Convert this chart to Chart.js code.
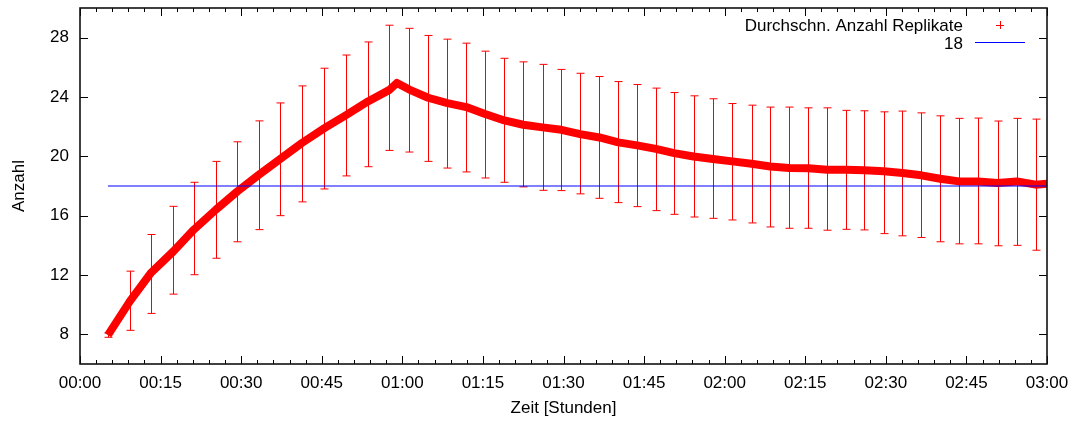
<!DOCTYPE html>
<html>
<head>
<meta charset="utf-8">
<script src="https://cdn.jsdelivr.net/npm/chart.js@4/dist/chart.umd.min.js"></script>
<style>
  html, body { margin: 0; padding: 0; background: #fff; }
</style>
</head>
<body>
<canvas id="chart" width="1073" height="424"></canvas>
<script>
// Zeit in Minuten, Mittelwert der Replikate
const meanX = [5.2, 9.3, 13.2, 17.4, 21.2, 25.3, 29.3, 33.3, 37.2, 41.3, 45.5, 49.6, 53.6, 57.6, 59.0,
  61.3, 64.8, 68.4, 71.9, 75.4, 79.0, 82.5, 86.1, 89.6, 93.1, 96.7, 100.2, 103.7, 107.2, 110.6,
  114.2, 117.8, 121.4, 125.0, 128.5, 132.0, 135.6, 139.1, 142.6, 146.0, 149.6, 153.1, 156.6,
  160.1, 163.6, 167.2, 170.8, 174.4, 177.9, 180.0];
const meanY = [7.95, 10.24, 12.15, 13.6, 15.06, 16.41, 17.64, 18.76, 19.8, 20.9, 21.9, 22.8, 23.7, 24.48, 24.95,
  24.5, 23.95, 23.59, 23.32, 22.85, 22.42, 22.13, 21.95, 21.79, 21.5, 21.27, 20.94, 20.74, 20.5, 20.22,
  19.99, 19.82, 19.66, 19.5, 19.32, 19.21, 19.19, 19.1, 19.1, 19.06, 18.99, 18.88, 18.72,
  18.49, 18.31, 18.31, 18.2, 18.31, 18.09, 18.16];

// Fehlerbalken
const errX = [5.2, 9.3, 13.2, 17.4, 21.2, 25.3, 29.3, 33.3, 37.2, 41.3, 45.5, 49.6, 53.6, 57.6,
  61.3, 64.8, 68.4, 71.9, 75.4, 79.0, 82.5, 86.1, 89.6, 93.1, 96.7, 100.2, 103.7, 107.2, 110.6,
  114.2, 117.8, 121.4, 125.0, 128.5, 132.0, 135.6, 139.1, 142.6, 146.0, 149.6, 153.1, 156.6,
  160.1, 163.6, 167.2, 170.8, 174.4, 177.9];
const errHigh = [8.1, 12.26, 14.73, 16.63, 18.25, 19.66, 20.98, 22.39, 23.6, 24.75, 25.94, 26.83, 27.71, 28.84,
  28.63, 28.15, 27.9, 27.63, 27.09, 26.61, 26.37, 26.2, 25.86, 25.6, 25.38, 25.04, 24.84, 24.6, 24.3,
  24.08, 23.88, 23.56, 23.45, 23.32, 23.32, 23.27, 23.27, 23.1, 23.07, 23.0, 23.05, 22.93,
  22.73, 22.56, 22.58, 22.38, 22.56, 22.51];
const errLow = [7.8, 8.27, 9.41, 10.71, 12.02, 13.13, 14.24, 15.06, 16.0, 16.93, 17.8, 18.68, 19.3, 20.4,
  20.29, 19.66, 19.21, 18.95, 18.54, 18.25, 17.94, 17.71, 17.69, 17.47, 17.17, 16.88, 16.61, 16.34, 16.09,
  15.91, 15.82, 15.71, 15.51, 15.24, 15.15, 15.15, 15.02, 15.08, 15.04, 14.79, 14.64, 14.53,
  14.24, 14.1, 14.1, 13.97, 14.0, 13.67];

// Referenzlinie
const refX = [5.2, 180];
const refY = [18, 18];

const yTicks = [8, 12, 16, 20, 24, 28];
const xTicks = [0, 15, 30, 45, 60, 75, 90, 105, 120, 135, 150, 165, 180];

const FONT = { family: '"Liberation Sans", Arial, sans-serif', size: 17 };

const fmt = m => {
  const h = Math.floor(m / 60), mm = Math.round(m % 60);
  return String(h).padStart(2, '0') + ':' + String(mm).padStart(2, '0');
};

const gnuplotFrame = {
  id: 'gnuplotFrame',
  beforeDatasetsDraw(chart) {
    const { ctx, scales: { x, y } } = chart;
    ctx.save();
    ctx.strokeStyle = '#ff0000';
    ctx.lineWidth = 1;
    errX.forEach((t, i) => {
      const px = Math.round(x.getPixelForValue(t)) + 0.5;
      const top = y.getPixelForValue(errHigh[i]);
      const bot = y.getPixelForValue(errLow[i]);
      ctx.beginPath();
      ctx.moveTo(px, top); ctx.lineTo(px, bot);
      ctx.moveTo(px - 4, top); ctx.lineTo(px + 4, top);
      ctx.moveTo(px - 4, bot); ctx.lineTo(px + 4, bot);
      ctx.stroke();
    });
    ctx.restore();
  },
  afterDraw(chart) {
    const { ctx, chartArea: a, scales: { x, y } } = chart;
    ctx.save();
    ctx.strokeStyle = '#000';
    ctx.lineWidth = 1;
    ctx.beginPath();
    for (let m = 0; m <= 180; m += 3) {
      const px = Math.round(x.getPixelForValue(m)) + 0.5;
      const len = m % 15 === 0 ? 8 : 4;
      ctx.moveTo(px, a.bottom); ctx.lineTo(px, a.bottom - len);
      ctx.moveTo(px, a.top); ctx.lineTo(px, a.top + len);
    }
    yTicks.forEach(v => {
      const py = Math.round(y.getPixelForValue(v)) + 0.5;
      ctx.moveTo(a.left, py); ctx.lineTo(a.left + 8, py);
      ctx.moveTo(a.right, py); ctx.lineTo(a.right - 8, py);
    });
    ctx.stroke();
    ctx.lineWidth = 1.6;
    ctx.strokeStyle = '#111';
    ctx.strokeRect(a.left, a.top, a.right - a.left, a.bottom - a.top);

    // Legende
    ctx.font = '17px "Liberation Sans", Arial, sans-serif';
    ctx.fillStyle = '#000';
    ctx.textAlign = 'right';
    ctx.textBaseline = 'alphabetic';
    ctx.fillText('Durchschn. Anzahl Replikate', 963, 31);
    ctx.fillText('18', 963, 49);
    ctx.strokeStyle = '#ff0000';
    ctx.lineWidth = 1;
    ctx.beginPath();
    ctx.moveTo(996, 25.5); ctx.lineTo(1004, 25.5);
    ctx.moveTo(1000.5, 21); ctx.lineTo(1000.5, 29);
    ctx.stroke();
    ctx.strokeStyle = '#0000ff';
    ctx.beginPath();
    ctx.moveTo(975, 42.5); ctx.lineTo(1025, 42.5);
    ctx.stroke();
    ctx.restore();
  }
};

new Chart(document.getElementById('chart'), {
  type: 'line',
  data: {
    datasets: [
      {
        label: 'Durchschn. Anzahl Replikate',
        data: meanX.map((t, i) => ({ x: t, y: meanY[i] })),
        borderColor: '#ff0000',
        borderWidth: 8,
        borderJoinStyle: 'round',
        pointRadius: 0,
        tension: 0,
        order: 2
      },
      {
        label: '18',
        data: refX.map((t, i) => ({ x: t, y: refY[i] })),
        borderColor: '#0000ff',
        borderWidth: 1,
        pointRadius: 0,
        order: 1
      }
    ]
  },
  options: {
    responsive: false,
    animation: false,
    events: [],
    layout: { padding: { top: 8, right: 26, left: 0, bottom: 0 } },
    plugins: { legend: { display: false }, tooltip: { enabled: false } },
    scales: {
      x: {
        type: 'linear',
        min: 0,
        max: 180,
        grid: { display: false, drawTicks: false },
        border: { display: false },
        afterBuildTicks: s => { s.ticks = xTicks.map(v => ({ value: v })); },
        ticks: { callback: v => fmt(v), font: FONT, color: '#000', padding: 9, maxRotation: 0, autoSkip: false },
        title: { display: true, text: 'Zeit [Stunden]', font: FONT, color: '#000', padding: { top: 0, bottom: 5 } },
        afterFit: s => { s.height = 60; s.paddingLeft = 0; s.paddingRight = 0; }
      },
      y: {
        min: 6,
        max: 30,
        grid: { display: false, drawTicks: false },
        border: { display: false },
        afterBuildTicks: s => { s.ticks = yTicks.map(v => ({ value: v })); },
        ticks: { font: FONT, color: '#000', padding: 11 },
        title: { display: true, text: 'Anzahl', font: FONT, color: '#000', padding: { top: 9, bottom: 0 } },
        afterFit: s => { s.width = 80; s.paddingTop = 0; s.paddingBottom = 0; }
      }
    }
  },
  plugins: [gnuplotFrame]
});
</script>
</body>
</html>
